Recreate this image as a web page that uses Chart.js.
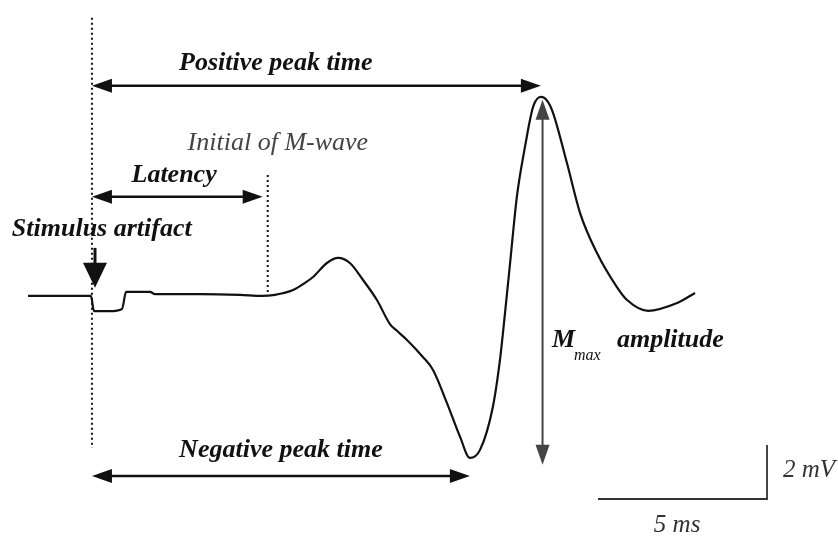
<!DOCTYPE html>
<html>
<head>
<meta charset="utf-8">
<script src="https://cdn.jsdelivr.net/npm/chart.js@4"></script>
<style>
  html, body { margin: 0; padding: 0; background: #fff; }
  canvas { display: block; }
</style>
</head>
<body>
<canvas id="mwave" width="838" height="536"></canvas>
<script>
// time (ms, 0 = stimulus) and voltage (mV) of the recorded trace
const tiempos = [-1.89, -0.95, -0.03, 0.06, 0.53, 0.89, 1.01, 1.42, 1.72, 1.86, 3.20, 4.38, 5.03, 5.41,
  5.95, 6.30, 6.54, 6.95, 7.28, 7.63, 8.02, 8.43, 8.82, 9.03, 9.32, 9.79, 10.09, 10.50, 10.89, 11.18, 11.48,
  11.86, 12.07, 12.22, 12.37, 12.57, 12.81, 13.05, 13.28, 13.49, 13.64, 14.05, 14.44, 14.94, 15.53,
  15.83, 16.45, 17.31, 17.84];
const voltajes = [0, 0, 0, -0.56, -0.56, -0.48, 0.15, 0.15, 0.15, 0.07, 0.07, 0.04, 0, 0.04,
  0.22, 0.48, 0.70, 1.22, 1.41, 1.22, 0.59, -0.15, -1.05, -1.30, -1.63, -2.26, -2.74, -3.96, -5.22, -6.0, -5.70,
  -4.11, -2.37, -0.63, 1.22, 3.67, 5.52, 7.0, 7.37, 7.19, 6.78, 4.93, 3.07, 1.59, 0.33,
  -0.15, -0.55, -0.26, 0.11];

const inicioEstimulo = 0;   // ms
const inicioOnda = 5.2;     // ms, initial of M-wave
const escalaTiempo = 5;     // ms
const escalaVoltaje = 2;    // mV

const puntos = tiempos.map((t, i) => ({ x: t, y: voltajes[i] }));

// peaks taken from the trace itself
let iMax = 0, iMin = 0;
voltajes.forEach((v, i) => {
  if (v > voltajes[iMax]) iMax = i;
  if (v < voltajes[iMin]) iMin = i;
});

const serif = '"Liberation Serif", "DejaVu Serif", serif';

function flecha(ctx, x1, y1, x2, y2, dobles, color, grosor, largo, ancho){
  largo = largo || 20;
  ancho = ancho || 7;
  const ang = Math.atan2(y2 - y1, x2 - x1);
  ctx.save();
  ctx.strokeStyle = color;
  ctx.fillStyle = color;
  ctx.lineWidth = grosor;
  ctx.setLineDash([]);
  ctx.beginPath();
  ctx.moveTo(x1 + (dobles ? Math.cos(ang) * largo * 0.8 : 0), y1 + (dobles ? Math.sin(ang) * largo * 0.8 : 0));
  ctx.lineTo(x2 - Math.cos(ang) * largo * 0.8, y2 - Math.sin(ang) * largo * 0.8);
  ctx.stroke();
  const punta = (x, y, a) => {
    ctx.beginPath();
    ctx.moveTo(x, y);
    ctx.lineTo(x - Math.cos(a) * largo + Math.sin(a) * ancho, y - Math.sin(a) * largo - Math.cos(a) * ancho);
    ctx.lineTo(x - Math.cos(a) * largo - Math.sin(a) * ancho, y - Math.sin(a) * largo + Math.cos(a) * ancho);
    ctx.closePath();
    ctx.fill();
  };
  punta(x2, y2, ang);
  if (dobles) punta(x1, y1, ang + Math.PI);
  ctx.restore();
}

function punteada(ctx, x, y1, y2){
  ctx.save();
  ctx.strokeStyle = '#111';
  ctx.lineWidth = 2;
  ctx.setLineDash([2, 3]);
  ctx.beginPath();
  ctx.moveTo(x, y1);
  ctx.lineTo(x, y2);
  ctx.stroke();
  ctx.restore();
}

function texto(ctx, s, x, y, fuente, color, alinear){
  ctx.save();
  ctx.font = fuente;
  ctx.fillStyle = color;
  ctx.textAlign = alinear || 'left';
  ctx.textBaseline = 'alphabetic';
  ctx.fillText(s, x, y);
  ctx.restore();
}

const anotaciones = {
  id: 'anotaciones',
  afterDatasetsDraw(chart){
    const ctx = chart.ctx;
    const sx = chart.scales.x, sy = chart.scales.y;
    const X = v => sx.getPixelForValue(v);
    const Y = v => sy.getPixelForValue(v);
    const tPos = tiempos[iMax], vPos = voltajes[iMax];
    const tNeg = tiempos[iMin], vNeg = voltajes[iMin];
    const negrita = 'italic bold 26px ' + serif;
    const cursiva = 'italic 26px ' + serif;

    punteada(ctx, X(inicioEstimulo), Y(10.3), Y(-5.63));
    punteada(ctx, X(inicioOnda), Y(4.48), Y(0));

    // positive peak time
    flecha(ctx, X(inicioEstimulo), Y(7.78), X(tPos), Y(7.78), true, '#111', 2.5);
    texto(ctx, 'Positive peak time', X(5.44), Y(8.37), negrita, '#111', 'center');

    texto(ctx, 'Initial of M-wave', X(5.5), Y(5.41), cursiva, '#444', 'center');

    // latency
    flecha(ctx, X(inicioEstimulo), Y(3.67), X(inicioOnda - 0.15), Y(3.67), true, '#111', 2.5);
    texto(ctx, 'Latency', X(2.43), Y(4.22), negrita, '#111', 'center');

    // stimulus artifact
    texto(ctx, 'Stimulus artifact', X(-2.37), Y(2.22), negrita, '#111');
    flecha(ctx, X(0.09), Y(1.78), X(0.09), Y(0.3), false, '#111', 3, 25, 12);

    // negative peak time
    flecha(ctx, X(inicioEstimulo), Y(-6.67), X(tNeg), Y(-6.67), true, '#111', 2.5);
    texto(ctx, 'Negative peak time', X(5.59), Y(-5.96), negrita, '#111', 'center');

    // Mmax amplitude
    flecha(ctx, X(tPos + 0.05), Y(vPos - 0.1), X(tPos + 0.05), Y(vNeg - 0.25), true, '#444', 2);
    texto(ctx, 'M', X(13.61), Y(-1.89), negrita, '#111');
    texto(ctx, 'max', X(14.26), Y(-2.37), 'italic 16px ' + serif, '#111');
    texto(ctx, 'amplitude', X(15.53), Y(-1.89), negrita, '#111');

    // scale bar
    const esqX = 19.97, esqY = -7.52;
    ctx.save();
    ctx.strokeStyle = '#333';
    ctx.lineWidth = 1.8;
    ctx.beginPath();
    ctx.moveTo(X(esqX - escalaTiempo), Y(esqY));
    ctx.lineTo(X(esqX), Y(esqY));
    ctx.lineTo(X(esqX), Y(esqY + escalaVoltaje));
    ctx.stroke();
    ctx.restore();
    texto(ctx, escalaVoltaje + ' mV', X(20.44), Y(-6.70), 'italic 25px ' + serif, '#333');
    texto(ctx, escalaTiempo + ' ms', X(17.31), Y(-8.74), 'italic 25px ' + serif, '#333', 'center');
  }
};

new Chart(document.getElementById('mwave'), {
  type: 'line',
  data: {
    datasets: [{
      data: puntos,
      borderColor: '#111',
      borderWidth: 2.2,
      pointRadius: 0,
      cubicInterpolationMode: 'monotone',
      fill: false
    }]
  },
  options: {
    responsive: false,
    animation: false,
    devicePixelRatio: 1,
    layout: { padding: 0 },
    plugins: { legend: { display: false }, tooltip: { enabled: false } },
    scales: {
      x: { type: 'linear', min: -2.72, max: 22.07, display: false },
      y: { min: -8.89, max: 10.96, display: false }
    }
  },
  plugins: [anotaciones]
});
</script>
</body>
</html>
